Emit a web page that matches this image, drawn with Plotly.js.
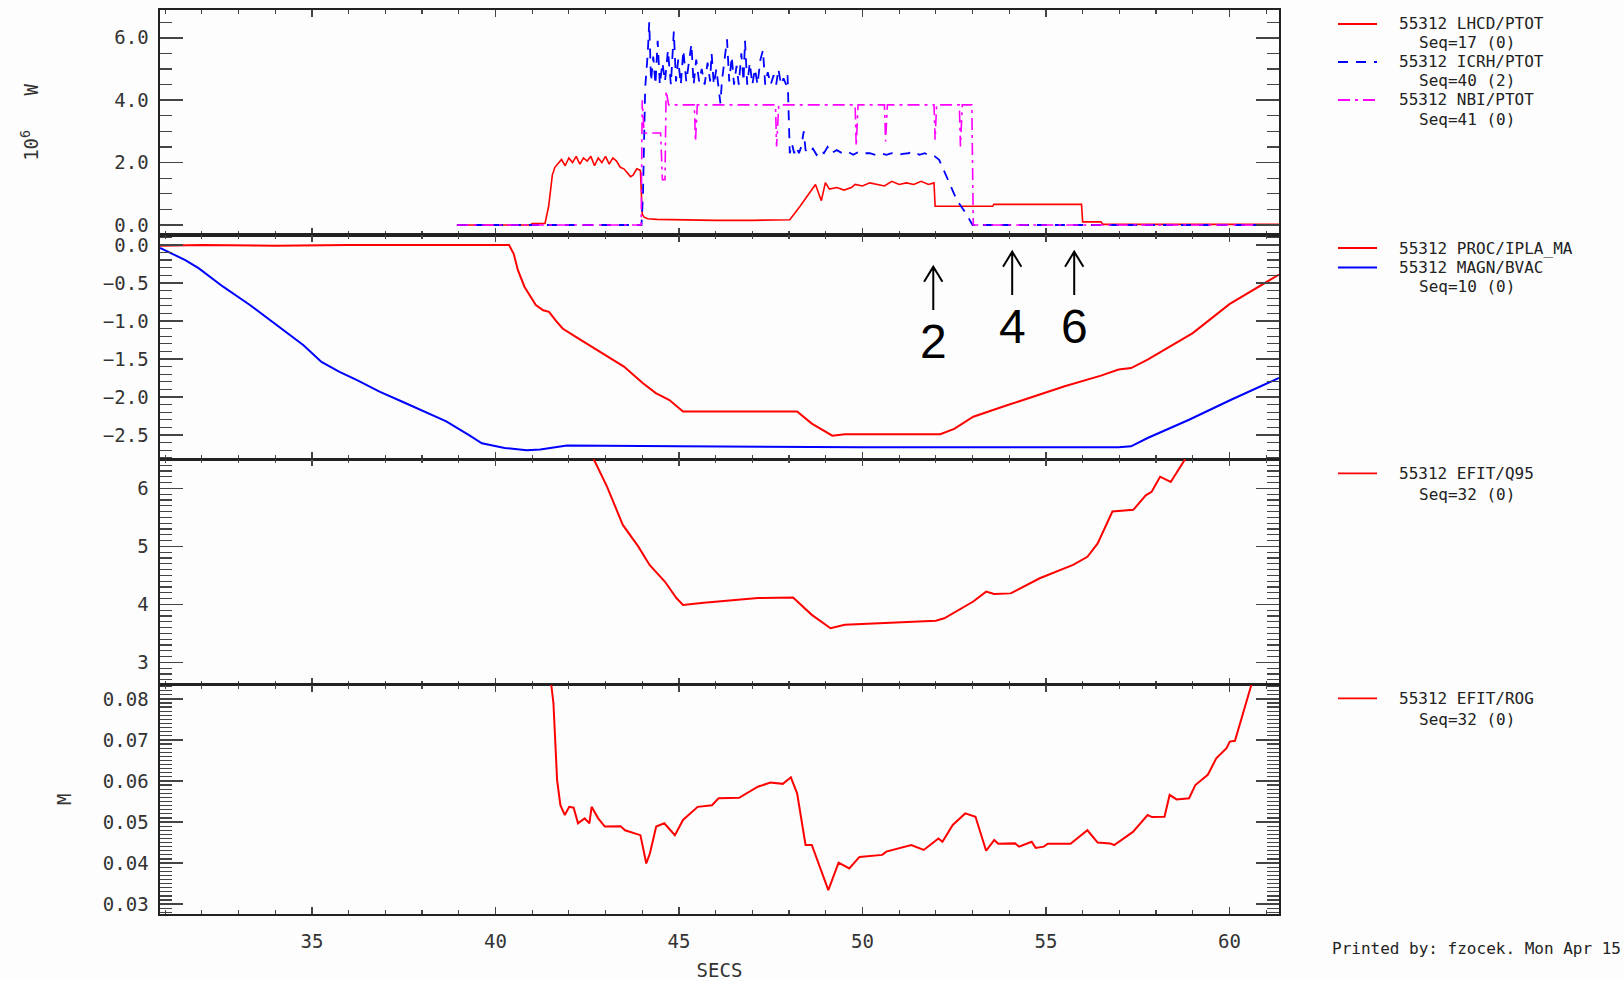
<!DOCTYPE html>
<html><head><meta charset="utf-8">
<script src="https://cdn.plot.ly/plotly-3.0.1.min.js"></script>
<style>html,body{margin:0;padding:0;background:#fdfdfd;} #chart{width:1623px;height:981px;}</style>
</head><body><div id="chart"></div>
<script>
// ---------------- DATA ----------------
// Panel 1: powers (10^6 W)
const tLHCD = [38.95,40.95,41.0,41.35,41.45,41.55,41.62,41.7,41.8,41.9,42.0,42.1,42.2,42.3,42.4,42.5,42.6,42.7,42.8,42.9,43.0,43.1,43.2,43.3,43.4,43.5,43.6,43.68,43.75,43.85,43.95,44.0,44.05,44.15,44.4,45.0,46.0,47.0,47.8,48.02,48.3,48.6,48.72,48.88,48.99,49.1,49.3,49.5,49.7,49.8,50.0,50.2,50.4,50.6,50.8,51.0,51.2,51.4,51.6,51.8,51.95,51.98,53.55,53.58,55.97,56.0,56.5,56.55,61.35];
const pLHCD = [0,0,0.05,0.05,0.6,1.6,1.85,1.95,2.1,1.9,2.15,2.0,2.2,1.95,2.15,2.05,2.2,1.9,2.15,2.0,2.2,1.95,2.15,2.05,1.85,1.8,1.65,1.55,1.6,1.8,1.75,0.35,0.25,0.2,0.18,0.16,0.15,0.15,0.15,0.17,0.6,1.1,1.3,0.78,1.36,1.15,1.2,1.12,1.2,1.3,1.25,1.35,1.3,1.25,1.4,1.3,1.35,1.3,1.4,1.3,1.35,0.6,0.6,0.66,0.66,0.1,0.1,0.02,0.02];

const tICRH = [38.95,43.98,44.02,44.08,44.15,44.19,44.24,44.3,44.36,44.42,44.48,44.55,44.62,44.7,44.78,44.86,44.92,44.98,45.05,45.12,45.2,45.27,45.34,45.4,45.47,45.55,45.62,45.7,45.78,45.85,45.89,45.95,46.02,46.08,46.13,46.17,46.24,46.31,46.37,46.44,46.5,46.57,46.63,46.7,46.76,46.8,46.86,46.93,47.0,47.07,47.14,47.22,47.29,47.35,47.42,47.5,47.58,47.65,47.71,47.78,47.85,47.92,47.96,47.99,48.02,48.08,48.14,48.2,48.27,48.33,48.4,48.45,48.55,48.65,48.75,48.85,48.95,49.05,49.15,49.3,49.45,49.6,49.75,49.9,50.05,50.2,50.35,50.5,50.65,50.8,50.95,51.1,51.25,51.4,51.55,51.7,51.85,51.97,52.09,52.33,52.57,52.82,53.0,61.35];
const pICRH = [0,0,1.0,4.4,5.5,6.5,4.6,5.4,4.5,5.9,4.5,5.2,4.6,5.6,4.5,6.2,4.6,5.3,4.5,5.6,4.6,5.2,5.8,4.5,5.3,4.6,5.0,4.5,5.2,4.6,5.5,4.5,5.0,4.4,3.9,4.6,5.3,5.95,4.6,5.4,4.5,5.1,4.5,5.5,4.6,5.9,4.5,5.2,4.5,5.0,4.5,5.3,5.6,4.5,4.9,4.5,4.8,4.5,5.0,4.5,4.7,4.5,4.8,3.6,2.3,2.6,2.3,2.5,2.3,2.5,3.0,2.4,2.3,2.45,2.25,2.4,2.3,2.5,2.3,2.4,2.3,2.35,2.25,2.35,2.3,2.3,2.25,2.3,2.25,2.3,2.25,2.28,2.3,2.35,2.25,2.3,2.2,2.2,2.09,1.45,0.8,0.37,0,0];

const tNBI = [38.95,43.97,44.0,44.05,44.5,44.55,44.62,44.65,44.72,45.42,45.45,45.5,47.63,47.66,47.72,49.8,49.83,49.88,50.6,50.63,50.68,51.95,51.98,52.02,52.64,52.67,52.72,52.98,53.02,61.35];
const pNBI = [0,0,4.0,2.95,2.95,1.45,1.45,4.3,3.85,3.85,2.68,3.85,3.85,2.52,3.85,3.85,2.52,3.85,3.85,2.68,3.85,3.85,2.73,3.85,3.85,2.52,3.85,3.85,0,0];

// Panel 2: plasma current (MA) and vacuum field
const tIPLA = [30.86,32,34,36,38,40,40.37,40.5,40.61,40.79,41.1,41.3,41.46,41.65,41.83,42.19,43.0,43.5,44.02,44.37,44.74,45.11,46,47,48.22,48.62,49.18,49.52,50.5,51.5,52.12,52.5,53.02,54,55.51,56.5,56.98,57.32,57.77,59,60,61.35];
const vIPLA = [-0.01,0,-0.01,0,0,0,0,-0.12,-0.33,-0.55,-0.79,-0.86,-0.88,-1.0,-1.10,-1.21,-1.45,-1.6,-1.82,-1.95,-2.04,-2.19,-2.19,-2.19,-2.19,-2.35,-2.51,-2.49,-2.49,-2.49,-2.49,-2.42,-2.26,-2.1,-1.86,-1.72,-1.64,-1.62,-1.51,-1.16,-0.78,-0.39];
const tBVAC = [30.86,31.55,31.92,32.58,33.31,34.04,34.77,35.26,35.75,36.23,36.84,37.45,38.06,38.66,39.27,39.63,40.25,40.85,41.22,41.95,45,50,55,56.98,57.32,57.77,58.9,60.03,61.35];
const vBVAC = [-0.04,-0.20,-0.31,-0.55,-0.79,-1.05,-1.32,-1.54,-1.67,-1.78,-1.93,-2.06,-2.19,-2.32,-2.5,-2.61,-2.67,-2.70,-2.69,-2.64,-2.65,-2.66,-2.66,-2.66,-2.65,-2.54,-2.30,-2.04,-1.75];

// Panel 3: q95
const tQ95 = [42.6,42.68,43.04,43.47,43.89,44.2,44.62,44.93,45.11,45.68,47.15,48.11,48.62,49.13,49.52,52.0,52.23,53.02,53.37,53.59,54.04,54.83,55.74,56.13,56.41,56.81,57.38,57.72,57.88,58.11,58.4,58.79,58.9];
const vQ95 = [6.65,6.5,6.03,5.37,5.0,4.68,4.39,4.11,3.99,4.03,4.11,4.12,3.82,3.59,3.65,3.72,3.76,4.05,4.22,4.18,4.19,4.45,4.68,4.82,5.05,5.6,5.63,5.88,5.94,6.2,6.11,6.5,6.7];

// Panel 4: ROG (M)
const tROG = [41.5,41.52,41.58,41.68,41.77,41.89,42.01,42.13,42.25,42.43,42.56,42.62,42.8,42.98,43.41,43.53,43.95,44.11,44.21,44.38,44.6,44.89,45.11,45.51,45.9,46.08,46.64,47.15,47.49,47.83,48.05,48.22,48.45,48.62,49.07,49.35,49.64,49.92,50.54,50.65,51.33,51.67,52.07,52.18,52.46,52.8,53.08,53.37,53.59,53.7,54.16,54.27,54.61,54.72,54.94,55.05,55.67,56.13,56.41,56.75,56.86,57.09,57.37,57.77,57.89,58.23,58.37,58.56,58.9,59.07,59.41,59.64,59.92,60.01,60.15,60.6,60.65];
const vROG = [0.09,0.0835,0.079,0.0602,0.0541,0.0517,0.0537,0.0535,0.0497,0.0509,0.0497,0.0537,0.0509,0.0489,0.049,0.048,0.0468,0.0399,0.0424,0.0489,0.0497,0.0468,0.0505,0.0537,0.0541,0.0558,0.0559,0.0586,0.0596,0.0593,0.0609,0.057,0.0444,0.0444,0.0334,0.0401,0.0387,0.0415,0.042,0.0428,0.0444,0.0432,0.046,0.0452,0.0493,0.0521,0.0513,0.043,0.0456,0.0447,0.0448,0.044,0.0452,0.0437,0.044,0.0447,0.0447,0.048,0.045,0.0448,0.0444,0.0458,0.0476,0.0517,0.0512,0.0513,0.0566,0.0555,0.0558,0.059,0.0615,0.0655,0.068,0.0696,0.0698,0.0835,0.086];

// Legend texts
const legendNames = ['55312 LHCD/PTOT','55312 ICRH/PTOT','55312 NBI/PTOT','55312 PROC/IPLA_MA','55312 MAGN/BVAC','55312 EFIT/Q95','55312 EFIT/ROG'];
const legendSeq   = ['Seq=17 (0)','Seq=40 (2)','Seq=41 (0)','','Seq=10 (0)','Seq=32 (0)','Seq=32 (0)'];
// Marker annotations (time in s, label)
const markTimes  = [51.93, 54.08, 55.77];
const markLabels = ['2','4','6'];
const xRange = [30.86, 61.35];

// ---------------- LAYOUT HELPERS ----------------
const L = 160, B = 914, W = 1119, H = 904;
const px = x => (x - L) / W;
const py = y => (B - y) / H;

const RED = '#ff0000', BLUE = '#0000ff', MAG = '#ff00ff';
const tickFont = {family:'DejaVu Sans Mono', size:19, color:'#333'};
const baseAx = {showline:true, linecolor:'#222', linewidth:1.6, mirror:'ticks', ticks:'inside',
  tickcolor:'#444', tickwidth:1.5, showgrid:false, zeroline:false, tickfont:tickFont};
function xAx(anchor, labels){
  return Object.assign({}, baseAx, {anchor:anchor, domain:[0,1], range:xRange, tick0:35, dtick:5, ticklen:7,
    showticklabels:labels, ticklabelstandoff:10,
    minor:{ticks:'inside', ticklen:4, dtick:1, tick0:35, tickcolor:'#444', tickwidth:1.2, showgrid:false}});
}
function yAx(anchor, dom, rng, dt, t0, mdt, fmt, extra){
  return Object.assign({}, baseAx, {anchor:anchor, domain:dom, range:rng, dtick:dt, tick0:t0, tickformat:fmt,
    ticklen:23, ticklabelstandoff:6,
    minor:{ticks:'inside', ticklen:12, dtick:mdt, tick0:t0, tickcolor:'#444', tickwidth:1.2, showgrid:false}}, extra||{});
}
const d1 = [py(235), 1], d2 = [py(459.3), py(235)], d3 = [py(684.5), py(459.3)], d4 = [0, py(684.5)];

const traces = [
  {x:tLHCD, y:pLHCD, xaxis:'x', yaxis:'y', mode:'lines', line:{color:RED, width:1.6}, name:legendNames[0]},
  {x:tICRH, y:pICRH, xaxis:'x', yaxis:'y', mode:'lines', line:{color:BLUE, width:1.8, dash:'10px,8px'}, name:legendNames[1]},
  {x:tNBI, y:pNBI, xaxis:'x', yaxis:'y', mode:'lines', line:{color:MAG, width:1.6, dash:'12px,5px,3px,5px'}, name:legendNames[2]},
  {x:tIPLA, y:vIPLA, xaxis:'x2', yaxis:'y2', mode:'lines', line:{color:RED, width:2}, name:legendNames[3]},
  {x:tBVAC, y:vBVAC, xaxis:'x2', yaxis:'y2', mode:'lines', line:{color:BLUE, width:2}, name:legendNames[4]},
  {x:tQ95, y:vQ95, xaxis:'x3', yaxis:'y3', mode:'lines', line:{color:RED, width:2}, name:legendNames[5]},
  {x:tROG, y:vROG, xaxis:'x4', yaxis:'y4', mode:'lines', line:{color:RED, width:2}, name:legendNames[6]}
];

// Legend layout (positions, px from top)
const legLineY = [24, 62, 100, 248, 267.5, 473.3, 698.3];
const legSeqY  = [43, 81, 119, null, 286.5, 494, 719];
const legColor = [RED, BLUE, MAG, RED, BLUE, RED, RED];
const legDash  = ['solid','10px,8px','12px,5px,3px,5px','solid','solid','solid','solid'];
const legFont = {family:'DejaVu Sans Mono', size:16, color:'#222'};

const shapes = [], annotations = [];
legendNames.forEach((n,i)=>{
  shapes.push({type:'line', xref:'paper', yref:'paper', x0:px(1338), x1:px(1377), y0:py(legLineY[i]), y1:py(legLineY[i]),
    line:{color:legColor[i], width:1.8, dash:legDash[i]}});
  annotations.push({xref:'paper', yref:'paper', x:px(1397), y:py(legLineY[i]), xanchor:'left', yanchor:'middle',
    text:n, showarrow:false, font:legFont});
  if(legendSeq[i]) annotations.push({xref:'paper', yref:'paper', x:px(1417), y:py(legSeqY[i]), xanchor:'left', yanchor:'middle',
    text:legendSeq[i], showarrow:false, font:legFont});
});
annotations.push({xref:'paper', yref:'paper', x:px(1330), y:py(948), xanchor:'left', yanchor:'middle',
  text:'Printed by: fzocek. Mon Apr 15', showarrow:false, font:{family:'DejaVu Sans Mono', size:16, color:'#222'}});

// Arrow marks
const arrowTop = [266.7, 251.7, 251.7], arrowBot = [310, 295, 295], labY = [341.5, 326.5, 326.5];
markTimes.forEach((t,i)=>{
  const dx = 0.25, yt = py(arrowTop[i]), yb = py(arrowBot[i]), hy = 15/H;
  shapes.push({type:'path', xref:'x', yref:'paper',
    path:`M ${t},${yb} L ${t},${yt} M ${t-dx},${yt-hy} L ${t},${yt} L ${t+dx},${yt-hy}`,
    line:{color:'#000', width:2}});
  annotations.push({xref:'x', yref:'paper', x:t, y:py(labY[i]), xanchor:'center', yanchor:'middle',
    text:markLabels[i], showarrow:false, font:{family:'Liberation Sans', size:48, color:'#000'}});
});

const layout = {
  width:1623, height:981, margin:{l:160, r:344, t:10, b:67},
  paper_bgcolor:'#fdfdfd', plot_bgcolor:'#fdfdfd', showlegend:false,
  xaxis: xAx('y', false), xaxis2: xAx('y2', false), xaxis3: xAx('y3', false),
  xaxis4: Object.assign(xAx('y4', true), {title:{text:'SECS', font:{family:'DejaVu Sans Mono', size:19, color:'#333'}, standoff:13}}),
  yaxis: yAx('x', d1, [-0.32, 6.89], 2, 0, 0.5, '.1f',
    {title:{text:'10<sup>6</sup>\u00a0\u00a0\u00a0W', font:{family:'DejaVu Sans Mono', size:19, color:'#333'}, standoff:70}}),
  yaxis2: yAx('x2', d2, [-2.82, 0.13], 0.5, 0, 0.1, '.1f'),
  yaxis3: yAx('x3', d3, [2.62, 6.5], 1, 0, 0.1, 'd'),
  yaxis4: yAx('x4', d4, [0.0276, 0.0835], 0.01, 0, 0.001, '.2f',
    {title:{text:'M', font:{family:'DejaVu Sans Mono', size:19, color:'#333'}, standoff:26}}),
  shapes:shapes, annotations:annotations
};
Plotly.newPlot('chart', traces, layout, {staticPlot:true, displayModeBar:false});
</script></body></html>
